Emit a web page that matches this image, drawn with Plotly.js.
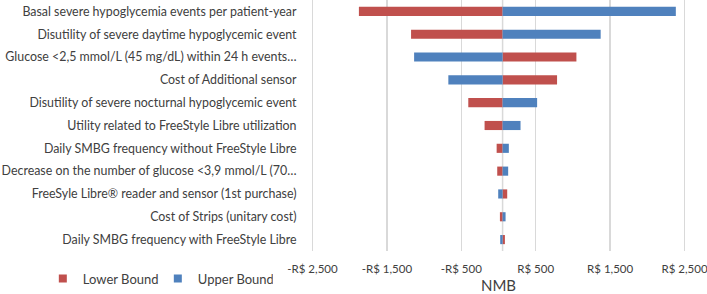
<!DOCTYPE html>
<html><head><meta charset="utf-8">
<script src="https://cdn.plot.ly/plotly-3.0.1.min.js"></script>
<style>html,body{margin:0;padding:0;background:#fff}#chart{width:707px;height:294px}</style>
</head><body><div id="chart"></div>
<script>
const categories = [
  "Basal severe hypoglycemia events per patient-year",
  "Disutility of severe daytime hypoglycemic event",
  "Glucose <2,5 mmol/L (45 mg/dL) within 24 h events…",
  "Cost of Additional sensor",
  "Disutility of severe nocturnal hypoglycemic event",
  "Utility related to FreeStyle Libre utilization",
  "Daily SMBG frequency without FreeStyle Libre",
  "Decrease on the number of glucose <3,9 mmol/L (70…",
  "FreeSyle Libre® reader and sensor (1st purchase)",
  "Cost of Strips (unitary cost)",
  "Daily SMBG frequency with FreeStyle Libre"
];
const baseNMB = 55;
const lowerBound = [-1876, -1175, 1047, 787, -406, -187, -25, -17, 117, 19, 86];
const upperBound = [2383, 1373, -1134, -674, 519, 296, 139, 130, -4, 95, 23];
const seriesNames = ["Lower Bound", "Upper Bound"];
const seriesColors = ["#C0504D", "#4F81BD"];
const tickVals = [-2500, -1500, -500, 500, 1500, 2500];
const tickText = ["-R$ 2,500", "-R$ 1,500", "-R$ 500", "R$ 500", "R$ 1,500", "R$ 2,500"];

const font = {family: "Lato, 'Open Sans', sans-serif", color: "#404040"};
const mk = (i, vals) => ({
  type: "bar", orientation: "h", name: seriesNames[i], legendgroup: seriesNames[i],
  y: categories, x: vals.map(v => v - baseNMB), base: baseNMB,
  marker: {color: seriesColors[i]}, width: 0.4, showlegend: false,
  hoverinfo: "skip"
});
const legendItem = (i) => ({
  type: "scatter", mode: "markers", name: seriesNames[i], legendgroup: seriesNames[i],
  x: [null], y: [null], marker: {symbol: "square", size: 8, color: seriesColors[i]},
  hoverinfo: "skip"
});
const data = [mk(0, lowerBound), mk(1, upperBound), legendItem(0), legendItem(1)];
const layout = {
  width: 707, height: 294,
  margin: {l: 307.5, r: 17.5, t: 0, b: 39},
  paper_bgcolor: "#fff", plot_bgcolor: "#fff",
  font: Object.assign({size: 13}, font),
  barmode: "overlay",
  showlegend: true,
  legend: {orientation: "h", x: -0.696, y: -0.05, xanchor: "left", yanchor: "top",
           font: Object.assign({size: 13}, font), itemwidth: 30, entrywidth: 70,
           tracegroupgap: 0},
  xaxis: {range: [-2560, 2560], tickvals: tickVals, ticktext: tickText,
          showgrid: true, gridcolor: "#d9d9d9", gridwidth: 1.5, zeroline: false,
          showline: false, ticks: "outside", ticklen: 7, tickcolor: "rgba(0,0,0,0)",
          ticklabeloverflow: "allow",
          tickfont: Object.assign({size: 11.5}, font),
          title: {text: "NMB", font: Object.assign({size: 15}, font), standoff: 8}},
  yaxis: {type: "category", autorange: "reversed", showgrid: false, zeroline: false,
          ticks: "outside", ticklen: 8, tickcolor: "rgba(0,0,0,0)",
          tickfont: Object.assign({size: 12.4}, font)},
  shapes: [{type: "line", xref: "x", yref: "paper", x0: baseNMB, x1: baseNMB, y0: 0, y1: 1,
            line: {color: "#d9d9d9", width: 1.5}, layer: "below"}]
};
Plotly.newPlot("chart", data, layout, {displayModeBar: false, staticPlot: true});
</script></body></html>
